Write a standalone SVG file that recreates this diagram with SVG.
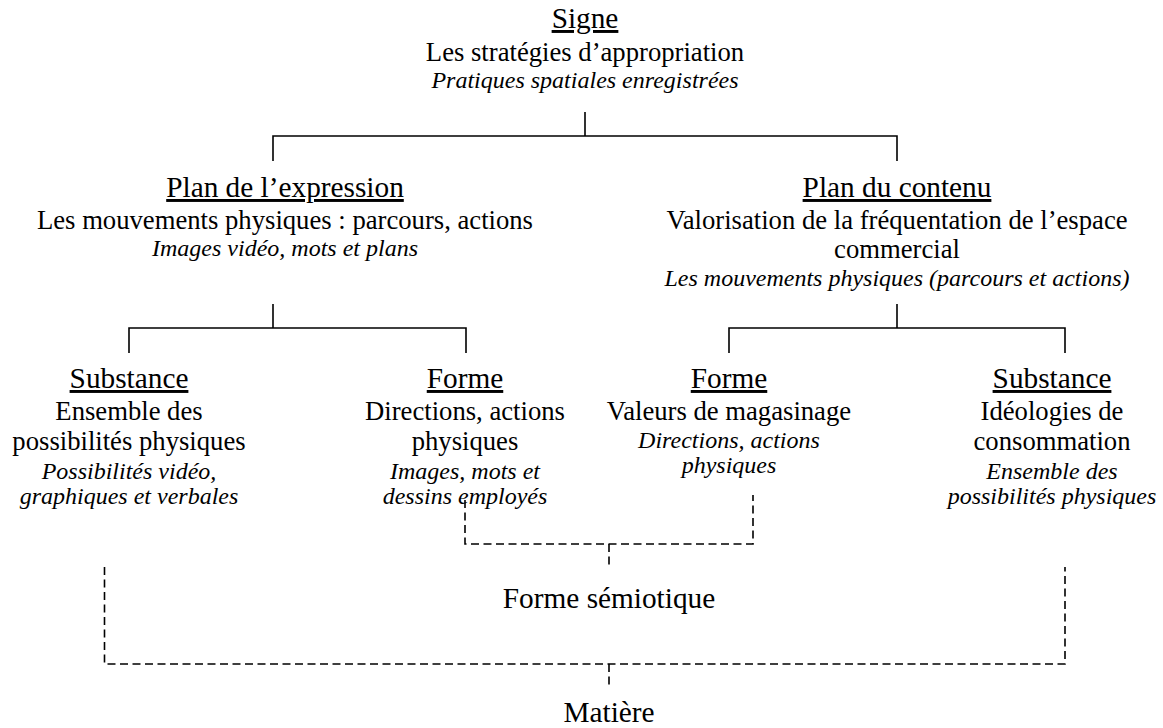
<svg xmlns="http://www.w3.org/2000/svg" width="1163" height="728" viewBox="0 0 1163 728">
<style>
text{fill:#000;text-anchor:middle}
.t{font-size:29.3px;text-decoration:underline}
.r{font-size:26.67px}
.i{font-size:24px;font-style:italic}
.l{font-size:29.3px}
.s{stroke:#000;stroke-width:1.6;fill:none}
.d{stroke:#000;stroke-width:1.6;fill:none;stroke-dasharray:8 4.5}
</style>
<rect width="1163" height="728" fill="#fff"/>
<g id="connectors">
<path class="s" d="M585 112V136M273 161V136H897V161"/>
<path class="s" d="M273 304V328M129 353V328H466V353"/>
<path class="s" d="M897 304V328M729 353V328H1065V353"/>
<path class="d" d="M465 500V544H753V495"/>
<path class="d" d="M609 544V567"/>
<path class="d" d="M104.5 567V664H1065V567"/>
<path class="d" d="M609 664V686"/>
</g>
<g font-family="'Liberation Serif', 'Times New Roman', 'DejaVu Serif', serif">
<g id="signe">
<text class="t" x="585" y="28">Signe</text>
<text class="r" x="585" y="60.5">Les stratégies d’appropriation</text>
<text class="i" x="585" y="88">Pratiques spatiales enregistrées</text>
</g>
<g id="plan-expression">
<text class="t" x="285" y="197">Plan de l’expression</text>
<text class="r" x="285" y="229">Les mouvements physiques : parcours, actions</text>
<text class="i" x="285" y="256">Images vidéo, mots et plans</text>
</g>
<g id="plan-contenu">
<text class="t" x="897" y="197">Plan du contenu</text>
<text class="r" x="897" y="229">Valorisation de la fréquentation de l’espace</text>
<text class="r" x="897" y="258">commercial</text>
<text class="i" x="897" y="286">Les mouvements physiques (parcours et actions)</text>
</g>
<g id="substance-expression">
<text class="t" x="129" y="388">Substance</text>
<text class="r" x="129" y="419.5">Ensemble des</text>
<text class="r" x="129" y="449.5">possibilités physiques</text>
<text class="i" x="129" y="478.5">Possibilités vidéo,</text>
<text class="i" x="129" y="503.5">graphiques et verbales</text>
</g>
<g id="forme-expression">
<text class="t" x="465" y="388">Forme</text>
<text class="r" x="465" y="419.5">Directions, actions</text>
<text class="r" x="465" y="449.5">physiques</text>
<text class="i" x="465" y="478.5">Images, mots et</text>
<text class="i" x="465" y="503.5">dessins employés</text>
</g>
<g id="forme-contenu">
<text class="t" x="729" y="388">Forme</text>
<text class="r" x="729" y="419.5">Valeurs de magasinage</text>
<text class="i" x="729" y="448">Directions, actions</text>
<text class="i" x="729" y="473">physiques</text>
</g>
<g id="substance-contenu">
<text class="t" x="1052" y="388">Substance</text>
<text class="r" x="1052" y="419.5">Idéologies de</text>
<text class="r" x="1052" y="449.5">consommation</text>
<text class="i" x="1052" y="478.5">Ensemble des</text>
<text class="i" x="1052" y="503.5">possibilités physiques</text>
</g>
<g id="forme-semiotique">
<text class="l" x="609" y="608">Forme sémiotique</text>
</g>
<g id="matiere">
<text class="l" x="609" y="722">Matière</text>
</g>
</g>
</svg>
